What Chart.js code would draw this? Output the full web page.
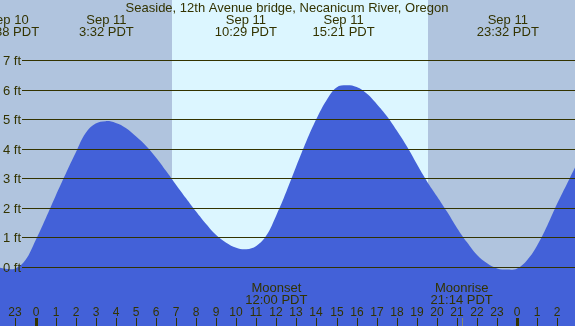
<!DOCTYPE html>
<html>
<head>
<meta charset="utf-8">
<title>Seaside tide chart</title>
<script src="https://cdn.jsdelivr.net/npm/chart.js@4/dist/chart.umd.min.js"></script>
<style>
    html, body { margin: 0; padding: 0; background: #b0c4de; overflow: hidden; }
    #tideChart { display: block; }
</style>
</head>
<body>
<canvas id="tideChart" width="575" height="326"></canvas>
<script>
/* ================================
   TIDE CHART - SEASIDE, OREGON
   ================================ */

const chartTitle = 'Seaside, 12th Avenue bridge, Necanicum River, Oregon';

// Half-hourly tide heights (hours from Sep 11 00:00 PDT, feet)
const tideHours = [-2, -1.5, -1, -0.5, 0, 0.5, 1, 1.5, 2, 2.5, 3, 3.5, 4, 4.5, 5, 5.5, 6, 6.5, 7, 7.5,
    8, 8.5, 9, 9.5, 10, 10.5, 11, 11.5, 12, 12.5, 13, 13.5, 14, 14.5, 15, 15.5, 16, 16.5, 17, 17.5,
    18, 18.5, 19, 19.5, 20, 20.5, 21, 21.5, 22, 22.5, 23, 23.5, 24, 24.5, 25, 25.5, 26, 26.5, 27];
const tideFeet = [0.03, -0.04, -0.03, 0.25, 0.91, 1.65, 2.42, 3.16, 3.88, 4.55, 4.87, 4.95, 4.89, 4.72, 4.44, 4.12, 3.72, 3.27, 2.8, 2.34,
    1.89, 1.47, 1.1, 0.84, 0.67, 0.62, 0.73, 1.08, 1.77, 2.57, 3.44, 4.28, 5.03, 5.66, 6.09, 6.16, 6.1, 5.88, 5.53, 5.12,
    4.63, 4.1, 3.5, 2.92, 2.41, 1.89, 1.34, 0.85, 0.42, 0.14, -0.03, -0.07, -0.03, 0.25, 0.75, 1.42, 2.17, 2.86, 3.55];

// High / low tide labels
const extremeHours = [-1.37, 3.53, 10.48, 15.35, 23.53];
const extremeDates = ['Sep 10', 'Sep 11', 'Sep 11', 'Sep 11', 'Sep 11'];
const extremeTimes = ['22:38 PDT', '3:32 PDT', '10:29 PDT', '15:21 PDT', '23:32 PDT'];

// Sun and moon
const sunriseHour = 6.8;
const sunsetHour = 19.55;
const moonHours = [12.0, 21.233];
const moonNames = ['Moonset', 'Moonrise'];
const moonTimes = ['12:00 PDT', '21:14 PDT'];

// Axis ticks
const footTicks = [0, 1, 2, 3, 4, 5, 6, 7];
const footLabels = ['0 ft', '1 ft', '2 ft', '3 ft', '4 ft', '5 ft', '6 ft', '7 ft'];
const hourTicks = [-1, 0, 1, 2, 3, 4, 5, 6, 7, 8, 9, 10, 11, 12, 13, 14, 15, 16, 17, 18, 19, 20, 21, 22, 23, 24, 25, 26];
const hourLabels = ['23', '0', '1', '2', '3', '4', '5', '6', '7', '8', '9', '10', '11', '12', '13', '14', '15', '16', '17', '18', '19', '20', '21', '22', '23', '0', '1', '2'];

const FONT = '"Liberation Sans", Arial, sans-serif';
const INK = '#333300';

// Night / day background
const backgroundPlugin = {
    id: 'dayNight',
    beforeDatasetsDraw(chart) {
        const ctx = chart.ctx;
        const x = chart.scales.x;
        ctx.save();
        ctx.fillStyle = '#b0c4de';
        ctx.fillRect(0, 0, chart.width, chart.height);
        const x1 = Math.round(x.getPixelForValue(sunriseHour));
        const x2 = Math.round(x.getPixelForValue(sunsetHour));
        ctx.fillStyle = '#dcf6ff';
        ctx.fillRect(x1, 0, x2 - x1, chart.height);
        ctx.restore();
    }
};

// Grid lines, labels and ticks on top of the water
const labelsPlugin = {
    id: 'tideLabels',
    afterDatasetsDraw(chart) {
        const ctx = chart.ctx;
        const x = chart.scales.x;
        const y = chart.scales.y;
        ctx.save();

        // Foot lines
        ctx.font = '13px ' + FONT;
        ctx.textAlign = 'left';
        ctx.textBaseline = 'alphabetic';
        footTicks.forEach(function(v, i) {
            const py = Math.floor(y.getPixelForValue(v));
            ctx.fillStyle = INK;
            ctx.fillRect(22, py, chart.width - 22, 1);
            ctx.fillText(footLabels[i], 3, py + 5);
        });

        // Title
        ctx.textAlign = 'center';
        ctx.fillText(chartTitle, 287, 12);

        // High / low labels
        extremeHours.forEach(function(h, i) {
            const px = x.getPixelForValue(h);
            ctx.fillText(extremeDates[i], px, 24);
            ctx.fillText(extremeTimes[i], px, 36);
        });

        // Moon labels
        moonHours.forEach(function(h, i) {
            const px = x.getPixelForValue(h);
            ctx.fillStyle = INK;
            ctx.fillText(moonNames[i], px, 292);
            ctx.fillText(moonTimes[i], px, 304);
            ctx.fillStyle = '#8a8a70';
            ctx.fillRect(Math.round(px), 318, 1, 8);
        });

        // Hour ticks
        ctx.font = '12px ' + FONT;
        hourTicks.forEach(function(h, i) {
            const px = Math.round(x.getPixelForValue(h));
            ctx.fillStyle = INK;
            ctx.fillText(hourLabels[i], px, 316);
            if (hourLabels[i] === '0') {
                ctx.fillRect(px - 1, 318, 3, 8);
            } else {
                ctx.fillRect(px, 318, 1, 8);
            }
        });

        ctx.restore();
    }
};

// Initialize chart
function initializeChart() {
    const ctx = document.getElementById('tideChart');
    new Chart(ctx, {
        type: 'line',
        data: {
            datasets: [{
                label: 'Tide',
                data: tideHours.map(function(h, i) { return { x: h, y: tideFeet[i] }; }),
                backgroundColor: '#4361d8',
                borderColor: '#4361d8',
                borderWidth: 0,
                pointRadius: 0,
                fill: 'start',
                tension: 0.4
            }]
        },
        options: {
            responsive: false,
            animation: false,
            devicePixelRatio: 1,
            layout: { padding: 0 },
            plugins: {
                legend: { display: false },
                tooltip: { enabled: false }
            },
            scales: {
                x: { type: 'linear', display: false, min: -1.769, max: 26.88 },
                y: { type: 'linear', display: false, min: -1.978, max: 9.046 }
            }
        },
        plugins: [backgroundPlugin, labelsPlugin]
    });
}

initializeChart();
</script>
</body>
</html>
